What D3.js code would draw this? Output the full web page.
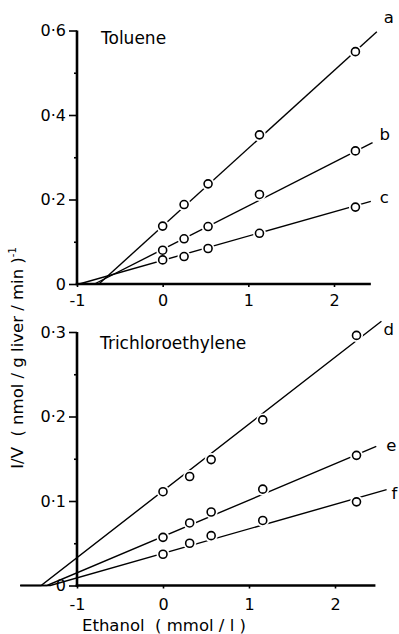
<!DOCTYPE html>
<html>
<head>
<meta charset="utf-8">
<script src="https://cdn.jsdelivr.net/npm/d3@7"></script>
<style>
  html, body { margin: 0; padding: 0; background: #fff; }
  svg { display: block; }
  text { font-family: "DejaVu Sans", sans-serif; fill: #000; }
</style>
</head>
<body>
<svg id="chart" width="399" height="634"></svg>
<script>
// ---------- DATA ----------
// Top panel: Toluene
const tolueneEthanol = [0, 0.25, 0.53, 1.13, 2.25];
const tolueneA = [0.137, 0.188, 0.237, 0.353, 0.550];
const tolueneB = [0.080, 0.107, 0.136, 0.212, 0.315];
const tolueneC = [0.057, 0.065, 0.084, 0.120, 0.182];
const tolueneSeries = ["a", "b", "c"];
const tolueneFitIntercept = [0.137, 0.082, 0.056];
const tolueneFitSlope = [0.184, 0.103, 0.0575];
const tolueneFitEnd = [2.50, 2.45, 2.43];

// Bottom panel: Trichloroethylene
const tceEthanol = [0, 0.31, 0.56, 1.16, 2.25];
const tceD = [0.111, 0.129, 0.149, 0.196, 0.296];
const tceE = [0.057, 0.074, 0.087, 0.114, 0.154];
const tceF = [0.037, 0.050, 0.059, 0.077, 0.099];
const tceSeries = ["d", "e", "f"];
const tceFitIntercept = [0.112, 0.058, 0.038];
const tceFitSlope = [0.079, 0.043, 0.029];
const tceFitEnd = [2.54, 2.48, 2.60];
const tceFitStart = -1.66;

const xTicks = [-1, 0, 1, 2];
const tolueneYMajor = [0, 0.2, 0.4, 0.6];
const tolueneYMinor = [0.1, 0.3, 0.5];
const tceYMajor = [0, 0.1, 0.2, 0.3];
const tceYMinor = [0.05, 0.15, 0.25];

// ---------- DRAW ----------
const svg = d3.select("#chart");
const FONT = '"DejaVu Sans", sans-serif';
const fmt = d => d === 0 ? "0" : d3.format(".1f")(d).replace(".", "\u00b7");
const fmtX = d => d < 0 ? "-" + Math.abs(d) : String(d);

function panel(opts) {
  const { x, y, xMax, yMajor, yMinor, title, titlePos, series, xs, fitB, fitM, fitEnd, fitStart, labelOffsets, xLabelPad } = opts;
  const g = svg.append("g");

  // minor y ticks
  g.append("g").attr("transform", `translate(${x(-1)},0)`)
    .call(d3.axisLeft(y).tickValues(yMinor).tickSize(3).tickSizeOuter(0).tickFormat(""))
    .call(s => s.select(".domain").remove())
    .call(s => s.selectAll("line").attr("stroke", "#000").attr("stroke-width", 1.6));
  // major y ticks
  g.append("g").attr("transform", `translate(${x(-1)},0)`)
    .call(d3.axisLeft(y).tickValues(yMajor).tickSize(8).tickSizeOuter(0).tickPadding(3).tickFormat(fmt))
    .call(s => s.select(".domain").remove())
    .call(s => s.selectAll("line").attr("stroke", "#000").attr("stroke-width", 1.6))
    .call(s => s.selectAll("text").attr("font-size", 16).attr("fill", "#000").style("font-family", FONT));
  // x ticks
  g.append("g").attr("transform", `translate(0,${y(0)})`)
    .call(d3.axisBottom(x).tickValues(xTicks).tickSize(3).tickSizeOuter(0).tickPadding(xLabelPad).tickFormat(fmtX))
    .call(s => s.select(".domain").remove())
    .call(s => s.selectAll("line").attr("stroke", "#000").attr("stroke-width", 1.6))
    .call(s => s.selectAll("text").attr("font-size", 16).attr("fill", "#000").style("font-family", FONT));

  // axis lines
  g.append("line").attr("x1", x(-1)).attr("x2", x(-1)).attr("y1", y(0) + 1.2).attr("y2", y(yMajor[yMajor.length - 1]))
    .attr("stroke", "#000").attr("stroke-width", 2.6);
  g.append("line").attr("x1", x(-1) - 1.3).attr("x2", x(xMax)).attr("y1", y(0)).attr("y2", y(0))
    .attr("stroke", "#000").attr("stroke-width", 2.6);

  // fit lines
  series.forEach((s, i) => {
    const xInt = -fitB[i] / fitM[i];
    const pts = [];
    if (fitStart !== undefined && fitStart < xInt) pts.push([fitStart, 0]);
    pts.push([xInt, 0]);
    pts.push([fitEnd[i], fitB[i] + fitM[i] * fitEnd[i]]);
    g.append("path")
      .attr("d", d3.line().x(p => x(p[0])).y(p => y(p[1]))(pts))
      .attr("fill", "none").attr("stroke", "#000").attr("stroke-width", 1.4);
  });

  // halos (gaps around markers)
  series.forEach(s => {
    g.selectAll(null).data(xs.map((v, j) => [v, s.values[j]])).enter().append("circle")
      .attr("cx", p => x(p[0])).attr("cy", p => y(p[1])).attr("r", 6.5).attr("fill", "#fff");
  });
  // markers
  series.forEach(s => {
    g.selectAll(null).data(xs.map((v, j) => [v, s.values[j]])).enter().append("circle")
      .attr("cx", p => x(p[0])).attr("cy", p => y(p[1])).attr("r", 4)
      .attr("fill", "#fff").attr("stroke", "#000").attr("stroke-width", 1.6);
  });

  // series labels
  series.forEach((s, i) => {
    const xe = fitEnd[i];
    const ye = fitB[i] + fitM[i] * xe;
    g.append("text").attr("x", x(xe) + labelOffsets[i][0]).attr("y", y(ye) + labelOffsets[i][1])
      .attr("font-size", 16.5).text(s.name);
  });

  // title
  g.append("text").attr("x", titlePos[0]).attr("y", titlePos[1]).attr("font-size", 17).text(title);
}

const xTop = d3.scaleLinear().domain([-1, 2]).range([77, 334]);
const yTop = d3.scaleLinear().domain([0, 0.6]).range([284, 30.5]);
panel({
  x: xTop, y: yTop, xMax: 2.43,
  yMajor: tolueneYMajor, yMinor: tolueneYMinor,
  title: "Toluene", titlePos: [101, 44],
  series: [tolueneA, tolueneB, tolueneC].map((v, i) => ({ name: tolueneSeries[i], values: v })),
  xs: tolueneEthanol, fitB: tolueneFitIntercept, fitM: tolueneFitSlope, fitEnd: tolueneFitEnd,
  labelOffsets: [[7, -9], [7, -3], [9, 2]], xLabelPad: 8
});

const xBot = d3.scaleLinear().domain([-1, 2]).range([77, 335]);
const yBot = d3.scaleLinear().domain([0, 0.3]).range([585.5, 332]);
panel({
  x: xBot, y: yBot, xMax: 2.47,
  yMajor: tceYMajor, yMinor: tceYMinor,
  title: "Trichloroethylene", titlePos: [100, 349],
  series: [tceD, tceE, tceF].map((v, i) => ({ name: tceSeries[i], values: v })),
  xs: tceEthanol, fitB: tceFitIntercept, fitM: tceFitSlope, fitEnd: tceFitEnd, fitStart: tceFitStart,
  labelOffsets: [[2, 14], [10, 5], [5, 9]], xLabelPad: 10
});

// axis titles
svg.append("text").attr("x", 82).attr("y", 631).attr("font-size", 16.5)
  .attr("xml:space", "preserve").text("Ethanol  ( mmol / l )");

const yl = svg.append("text").attr("transform", "translate(23,358) rotate(-90)")
  .attr("text-anchor", "middle").attr("font-size", 16.5);
yl.append("tspan").attr("xml:space", "preserve").text("I/V  ( nmol / g liver / min )");
yl.append("tspan").attr("dy", -7).attr("font-size", 10).text("-1");
</script>
</body>
</html>
